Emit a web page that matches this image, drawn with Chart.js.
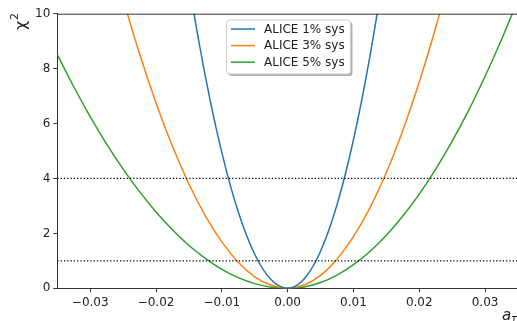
<!DOCTYPE html>
<html>
<head>
  <title>chi2 vs a_tau</title>
  <script src="https://cdn.jsdelivr.net/npm/chart.js"></script>
  <style>
    body { margin: 0; overflow: hidden; background: #fff; }
  </style>
</head>
<body>
  <canvas id="chi2Chart" width="518" height="321"></canvas>
  <script>
    // a_tau sample points and chi^2
    const aTau = [-0.035, -0.0325, -0.03, -0.0275, -0.025, -0.0225, -0.02, -0.0175, -0.015, -0.0125,
      -0.01, -0.0075, -0.005, -0.0025, 0, 0.0025, 0.005, 0.0075, 0.01, 0.0125,
      0.015, 0.0175, 0.02, 0.0225, 0.025, 0.0275, 0.03, 0.0325, 0.035];
    const chi1 = [null, null, null, null, null, null, null, 15.12, 11.11, 7.72,
      4.94, 2.78, 1.24, 0.31, 0, 0.34, 1.35, 3.04, 5.41, 8.45,
      12.17, 16.56, null, null, null, null, null, null, null];
    const chi3 = [null, null, 15.18, 12.76, 10.54, 8.54, 6.75, 5.17, 3.80, 2.64,
      1.69, 0.95, 0.42, 0.11, 0, 0.12, 0.47, 1.06, 1.88, 2.93,
      4.22, 5.75, 7.51, 9.50, 11.73, 14.19, 16.89, null, null];
    const chi5 = [8.51, 7.34, 6.25, 5.25, 4.34, 3.52, 2.78, 2.13, 1.56, 1.09,
      0.69, 0.39, 0.17, 0.04, 0, 0.05, 0.21, 0.48, 0.86, 1.34,
      1.93, 2.63, 3.43, 4.34, 5.36, 6.48, 7.72, 9.06, 10.50];
    const seriesLabels = ['ALICE 1% sys', 'ALICE 3% sys', 'ALICE 5% sys'];
    const seriesColors = ['#1f77b4', '#ff7f0e', '#2ca02c'];
    const refLevels = [1, 4];
    const xRange = [-0.035, 0.035];
    const xTicks = [-0.03, -0.02, -0.01, 0, 0.01, 0.02, 0.03];
    const yTicks = [0, 2, 4, 6, 8, 10];

    const FONT = 'DejaVu Sans';

    function pairs(ys) {
      return aTau.map((x, i) => ({ x: x, y: ys[i] }));
    }

    const datasets = [];
    for (const lvl of refLevels) {
      datasets.push({
        label: 'ref' + lvl,
        data: [{ x: xRange[0], y: lvl }, { x: xRange[1], y: lvl }],
        borderColor: '#000',
        borderWidth: 1.2,
        borderDash: [1.3, 2],
        pointRadius: 0,
        fill: false
      });
    }
    [chi1, chi3, chi5].forEach((ys, i) => {
      datasets.push({
        label: seriesLabels[i],
        data: pairs(ys),
        borderColor: seriesColors[i],
        borderWidth: 1.5,
        pointRadius: 0,
        cubicInterpolationMode: 'monotone',
        fill: false
      });
    });

    function roundRect(ctx, x, y, w, h, r) {
      ctx.beginPath();
      ctx.moveTo(x + r, y);
      ctx.lineTo(x + w - r, y);
      ctx.arcTo(x + w, y, x + w, y + r, r);
      ctx.lineTo(x + w, y + h - r);
      ctx.arcTo(x + w, y + h, x + w - r, y + h, r);
      ctx.lineTo(x + r, y + h);
      ctx.arcTo(x, y + h, x, y + h - r, r);
      ctx.lineTo(x, y + r);
      ctx.arcTo(x, y, x + r, y, r);
      ctx.closePath();
    }

    // frame, legend box and axis labels
    const extras = {
      id: 'extras',
      afterDatasetsDraw(chart) {
        const ctx = chart.ctx;
        const a = chart.chartArea;
        ctx.save();
        ctx.strokeStyle = '#333';
        ctx.lineWidth = 1;
        ctx.beginPath();
        ctx.moveTo(a.left, a.top + 0.5);
        ctx.lineTo(a.right, a.top + 0.5);
        ctx.stroke();

        // legend
        const bx = 226.5, by = 20, bw = 124, bh = 54;
        ctx.fillStyle = 'rgba(0,0,0,0.3)';
        roundRect(ctx, bx + 2, by + 2, bw, bh, 3);
        ctx.fill();
        ctx.fillStyle = '#fff';
        ctx.strokeStyle = '#ccc';
        roundRect(ctx, bx, by, bw, bh, 3);
        ctx.fill();
        ctx.stroke();
        ctx.font = '12px "' + FONT + '"';
        ctx.textBaseline = 'middle';
        ctx.textAlign = 'left';
        seriesLabels.forEach((lab, i) => {
          const yy = 29 + i * 16.6;
          ctx.strokeStyle = seriesColors[i];
          ctx.lineWidth = 1.5;
          ctx.beginPath();
          ctx.moveTo(231, yy);
          ctx.lineTo(255, yy);
          ctx.stroke();
          ctx.fillStyle = '#222';
          ctx.fillText(lab, 264, yy + 0.5);
        });

        // y label
        ctx.fillStyle = '#222';
        ctx.save();
        ctx.translate(26, 30);
        ctx.rotate(-Math.PI / 2);
        ctx.textBaseline = 'alphabetic';
        ctx.font = '16px "' + FONT + '"';
        ctx.fillText('\u03c7', 0, 0);
        ctx.font = '11px "' + FONT + '"';
        ctx.fillText('2', 10, -8);
        ctx.restore();

        // x label
        ctx.textBaseline = 'alphabetic';
        ctx.font = 'italic 15px "' + FONT + '"';
        ctx.fillText('a', 502, 319.5);
        ctx.font = 'italic 10px "' + FONT + '"';
        ctx.fillText('\u03c4', 511, 322);
        ctx.restore();
      }
    };

    function fmtX(v) {
      const s = v.toFixed(2);
      return s === '-0.00' ? '0.00' : s.replace('-', '\u2212');
    }

    const ctx = document.getElementById('chi2Chart').getContext('2d');
    new Chart(ctx, {
      type: 'line',
      data: { datasets: datasets },
      plugins: [extras],
      options: {
        responsive: false,
        animation: false,
        devicePixelRatio: 1,
        layout: { padding: { top: 13.7, right: 0, left: 0, bottom: 0 } },
        plugins: { legend: { display: false }, tooltip: { enabled: false } },
        scales: {
          x: {
            type: 'linear',
            min: xRange[0],
            max: xRange[1],
            afterFit(scale) { scale.height = 32.7; },
            afterBuildTicks(scale) { scale.ticks = xTicks.map(v => ({ value: v })); },
            grid: { drawOnChartArea: false, drawTicks: true, tickLength: 4, color: '#333' },
            border: { color: '#333', width: 1 },
            ticks: {
              padding: 3,
              color: '#222',
              font: { family: FONT, size: 12 },
              maxRotation: 0,
              autoSkip: false,
              callback: v => fmtX(v)
            }
          },
          y: {
            min: 0,
            max: 10,
            afterFit(scale) { scale.width = 57.3; },
            afterBuildTicks(scale) { scale.ticks = yTicks.map(v => ({ value: v })); },
            grid: { drawOnChartArea: false, drawTicks: true, tickLength: 4, color: '#333' },
            border: { color: '#333', width: 1 },
            ticks: {
              padding: 3,
              color: '#222',
              font: { family: FONT, size: 12 },
              callback: v => String(v)
            }
          }
        }
      }
    });
  </script>
</body>
</html>
